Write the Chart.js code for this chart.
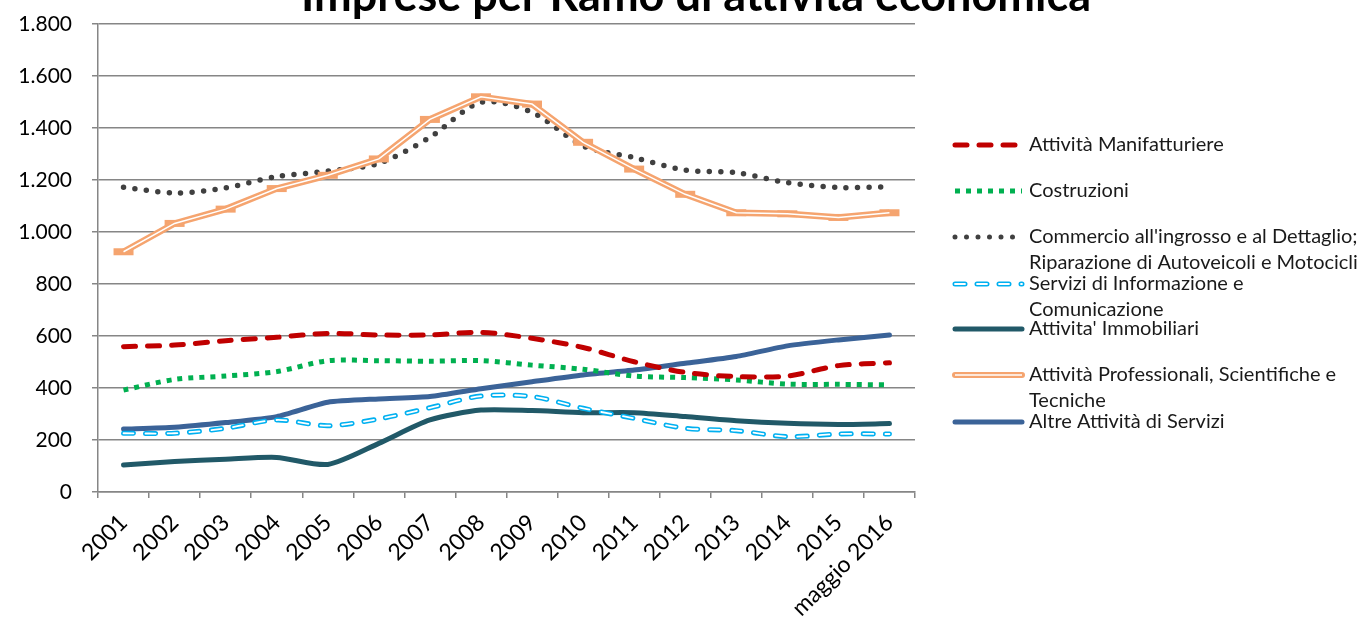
<!DOCTYPE html>
<html>
<head>
<meta charset="utf-8">
<script src="https://cdn.jsdelivr.net/npm/chart.js@4"></script>
<style>
  html, body { margin: 0; padding: 0; background: #fff; }
  #wrap { width: 1358px; height: 621px; position: relative; }
</style>
</head>
<body>
<div id="wrap"><canvas id="chart"></canvas></div>
<script>
const years = ['2001', '2002', '2003', '2004', '2005', '2006', '2007', '2008', '2009', '2010', '2011', '2012', '2013', '2014', '2015', 'maggio 2016'];

const manifatturiere = [559, 565, 582, 595, 610, 604, 604, 614, 591, 556, 501, 460, 444, 446, 486, 497];
const costruzioni = [392, 433, 446, 463, 505, 505, 503, 505, 488, 472, 446, 440, 431, 415, 414, 412];
const commercio = [1172, 1150, 1170, 1213, 1234, 1264, 1364, 1499, 1460, 1331, 1286, 1238, 1228, 1190, 1171, 1174];
const informazione = [226, 226, 245, 277, 255, 281, 324, 369, 367, 322, 283, 245, 236, 213, 223, 223];
const immobiliari = [104, 117, 126, 133, 106, 187, 277, 315, 313, 305, 305, 290, 274, 264, 260, 263];
const professionali = [924, 1033, 1088, 1167, 1218, 1281, 1433, 1520, 1492, 1345, 1242, 1145, 1074, 1070, 1056, 1074];
const altriServizi = [242, 249, 267, 290, 345, 358, 367, 397, 424, 450, 469, 495, 521, 562, 585, 604];

const yTicks = [0, 200, 400, 600, 800, 1000, 1200, 1400, 1600, 1800];

const FONT = 'Lato, "Open Sans", sans-serif';

// legend entries: label lines + how to stroke the sample
const legendItems = [
  { lines: ['Attività Manifatturiere'], y: 145, strokes: [{ color: '#c00000', width: 5, dash: [12, 12], cap: 'round' }] },
  { lines: ['Costruzioni'], y: 191, strokes: [{ color: '#00b050', width: 5, dash: [5, 6], cap: 'butt' }] },
  { lines: ["Commercio all'ingrosso e al Dettaglio;", 'Riparazione di Autoveicoli e Motocicli'], y: 237, strokes: [{ color: '#404040', width: 5, dash: [0, 11.5], cap: 'round' }] },
  { lines: ['Servizi di Informazione e', 'Comunicazione'], y: 284, strokes: [{ color: '#00b0f0', width: 5, dash: [10, 12], cap: 'round' }, { color: '#fff', width: 1.8, dash: [10, 12], cap: 'round' }] },
  { lines: ["Attivita' Immobiliari"], y: 329, strokes: [{ color: '#215968', width: 5, dash: [], cap: 'round' }] },
  { lines: ['Attività Professionali, Scientifiche e', 'Tecniche'], y: 375, strokes: [{ color: '#f5a46f', width: 6, dash: [], cap: 'round' }, { color: '#fff', width: 1.5, dash: [], cap: 'butt' }] },
  { lines: ['Altre Attività di Servizi'], y: 422, strokes: [{ color: '#3b6398', width: 5, dash: [], cap: 'round' }] }
];

const titlePlugin = {
  id: 'titleAndLegend',
  afterDraw(chart) {
    const ctx = chart.ctx;
    ctx.save();
    ctx.fillStyle = '#000';
    ctx.font = 'bold 45px ' + FONT;
    ctx.textAlign = 'center';
    ctx.textBaseline = 'alphabetic';
    ctx.fillText('Imprese per Ramo di attività economica', 696, 11);

    ctx.font = '20px ' + FONT;
    ctx.textAlign = 'left';
    ctx.textBaseline = 'middle';
    legendItems.forEach(item => {
      item.strokes.forEach(s => {
        ctx.beginPath();
        ctx.strokeStyle = s.color;
        ctx.lineWidth = s.width;
        ctx.lineCap = s.cap;
        ctx.setLineDash(s.dash);
        ctx.moveTo(955, item.y);
        ctx.lineTo(1022, item.y);
        ctx.stroke();
      });
      ctx.setLineDash([]);
      ctx.fillStyle = '#1a1a1a';
      item.lines.forEach((line, i) => {
        ctx.fillText(line, 1029, item.y + i * 26);
      });
    });
    ctx.restore();
  }
};

const base = { fill: false, pointRadius: 0, pointHoverRadius: 0, cubicInterpolationMode: 'default' };

new Chart(document.getElementById('chart').getContext('2d'), {
  type: 'line',
  data: {
    labels: years,
    datasets: [
      { ...base, label: 'Attività Manifatturiere', data: manifatturiere, borderColor: '#c00000', borderWidth: 5, borderDash: [12, 12], borderCapStyle: 'round', tension: 0.3, order: 3 },
      { ...base, label: 'Costruzioni', data: costruzioni, borderColor: '#00b050', borderWidth: 5, borderDash: [5, 6], borderCapStyle: 'butt', tension: 0.3, order: 4 },
      { ...base, label: "Commercio all'ingrosso e al Dettaglio; Riparazione di Autoveicoli e Motocicli", data: commercio, borderColor: '#404040', borderWidth: 5.5, borderDash: [0, 11.5], borderCapStyle: 'round', tension: 0.3, order: 5 },
      { ...base, label: 'Servizi di Informazione e Comunicazione', data: informazione, borderColor: '#00b0f0', borderWidth: 5, borderDash: [10, 12], borderCapStyle: 'round', tension: 0.3, order: 7 },
      { ...base, label: '', data: informazione, borderColor: '#ffffff', borderWidth: 1.8, borderDash: [10, 12], borderCapStyle: 'round', tension: 0.3, order: 6 },
      { ...base, label: "Attivita' Immobiliari", data: immobiliari, borderColor: '#215968', borderWidth: 5, borderCapStyle: 'round', tension: 0.25, order: 8 },
      { ...base, label: 'Attività Professionali, Scientifiche e Tecniche', data: professionali, borderColor: '#f5a46f', borderWidth: 6.5, tension: 0, order: 2,
        pointRadius: 10, pointStyle: 'line', pointBorderWidth: 7, pointBorderColor: '#f5a46f' },
      { ...base, label: '', data: professionali, borderColor: '#ffffff', borderWidth: 1.5, tension: 0, order: 1 },
      { ...base, label: 'Altre Attività di Servizi', data: altriServizi, borderColor: '#3b6398', borderWidth: 5, borderCapStyle: 'round', tension: 0.2, order: 9 }
    ]
  },
  options: {
    responsive: true,
    maintainAspectRatio: false,
    animation: false,
    layout: { padding: { top: 24, right: 443, left: 0, bottom: 0 } },
    plugins: {
      legend: { display: false },
      tooltip: { enabled: false },
      title: { display: false }
    },
    scales: {
      x: {
        offset: true,
        grid: { offset: true, drawOnChartArea: false, drawTicks: true, tickLength: 6, color: '#868686', lineWidth: 1.5 },
        border: { display: true, color: '#868686', width: 1.5 },
        ticks: { minRotation: 45, maxRotation: 45, autoSkip: false, padding: 11, color: '#000', font: { family: FONT, size: 23 } },
        afterFit(scale) { scale.height = 129; scale.paddingLeft = 0; scale.paddingRight = 0; }
      },
      y: {
        min: 0,
        max: 1800,
        afterBuildTicks(scale) { scale.ticks = yTicks.map(v => ({ value: v })); },
        grid: { color: '#868686', lineWidth: 1.5, tickLength: 6 },
        border: { display: true, color: '#868686', width: 1.5 },
        ticks: {
          padding: 20,
          color: '#000',
          font: { family: FONT, size: 21 },
          callback: v => v.toLocaleString('de-DE')
        },
        afterFit(scale) { scale.width = 98; scale.paddingTop = 0; scale.paddingBottom = 0; }
      }
    }
  },
  plugins: [titlePlugin]
});
</script>
</body>
</html>
